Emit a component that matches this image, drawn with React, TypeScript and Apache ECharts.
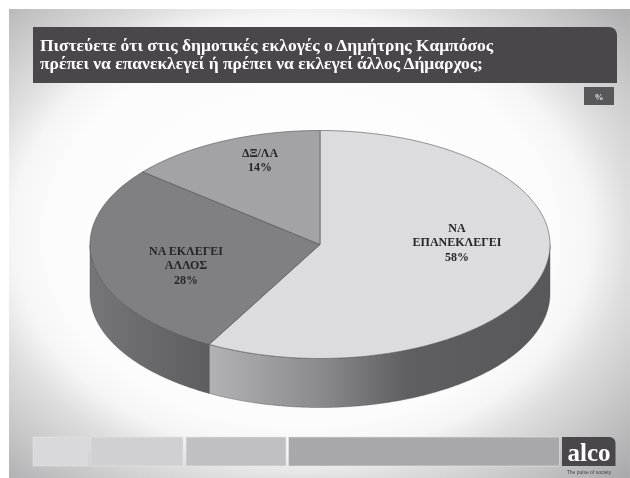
import React, { useEffect, useRef } from "react";
import * as echarts from "echarts";

const titleLines = [
  "Πιστεύετε ότι στις δημοτικές εκλογές ο Δημήτρης Καμπόσος",
  "πρέπει να επανεκλεγεί ή πρέπει να εκλεγεί άλλος Δήμαρχος;",
];
const categories = ["ΝΑ\nΕΠΑΝΕΚΛΕΓΕΙ", "ΝΑ ΕΚΛΕΓΕΙ\nΑΛΛΟΣ", "ΔΞ/ΛΑ"];
const values = [58, 28, 14];
const unitLabel = "%";
const brand = "alco";
const tagline = "The pulse of society";

const topColors = ["#dcdcde", "#807f82", "#a3a3a6"];
const labelCenters = [
  [457, 242],
  [186, 265],
  [260, 160],
];
const CX = 320;
const CY = 244.5;
const RX = 230;
const RY = 114;
const DEPTH = 49;
const SERIF = '"Liberation Serif", serif';

const pt = (deg: number, dy = 0): number[] => {
  const a = (deg * Math.PI) / 180;
  return [CX + RX * Math.sin(a), CY - RY * Math.cos(a) + dy];
};
const arc = (from: number, to: number, dy = 0): number[][] => {
  const out: number[][] = [];
  const n = Math.max(2, Math.ceil(Math.abs(to - from) * 2));
  for (let i = 0; i <= n; i++) out.push(pt(from + ((to - from) * i) / n, dy));
  return out;
};

const wallGradient = (idx: number) =>
  idx === 0
    ? new echarts.graphic.LinearGradient(210, 0, 550, 0, [
        { offset: 0, color: "#b2b2b4" },
        { offset: 0.32, color: "#8b8b8d" },
        { offset: 0.58, color: "#5f5f62" },
        { offset: 1, color: "#58585b" },
      ], true)
    : new echarts.graphic.LinearGradient(90, 0, 210, 0, [
        { offset: 0, color: "#767678" },
        { offset: 0.4, color: "#6c6c6e" },
        { offset: 1, color: "#5e5e60" },
      ], true);

export default function App() {
  const ref = useRef<HTMLDivElement>(null);
  useEffect(() => {
    const chart = echarts.init(ref.current!, undefined, { renderer: "svg" });
    const total = values.reduce((a, b) => a + b, 0);
    const bars = [
      [33, 55, "#d9d9db"],
      [90.5, 92.5, "#d0d0d2"],
      [186, 100, "#c0c0c3"],
      [288.5, 271, "#a8a8ab"],
    ] as [number, number, string][];
    chart.setOption({
      animation: false,
      graphic: [
        {
          type: "rect",
          x: 9,
          y: 9,
          scaleX: 621 / 469,
          shape: { x: 0, y: 0, width: 469, height: 469 },
          style: {
            fill: new echarts.graphic.RadialGradient(0.47, 0.48, 0.78, [
              { offset: 0, color: "#ffffff" },
              { offset: 0.52, color: "#fcfcfc" },
              { offset: 0.6, color: "#f5f5f5" },
              { offset: 0.68, color: "#dedede" },
              { offset: 0.95, color: "#a8a8aa" },
              { offset: 1, color: "#a4a4a6" },
            ]),
          },
        },
        {
          type: "rect",
          shape: { x: 33, y: 27, width: 584, height: 56, r: [0, 8, 0, 0] },
          style: { fill: "#49474a" },
        },
        {
          type: "text",
          x: 40,
          y: 44.5,
          style: { text: titleLines[0], fill: "#fff", fontFamily: SERIF, fontWeight: "bold", fontSize: 17.5, align: "left", verticalAlign: "middle" },
        },
        {
          type: "text",
          x: 40,
          y: 62.5,
          style: { text: titleLines[1], fill: "#fff", fontFamily: SERIF, fontWeight: "bold", fontSize: 17.5, align: "left", verticalAlign: "middle" },
        },
        {
          type: "rect",
          shape: { x: 584, y: 87, width: 30, height: 18 },
          style: { fill: "#58575a" },
        },
        {
          type: "text",
          x: 599,
          y: 96.5,
          style: { text: unitLabel, fill: "#e8e8e8", fontFamily: SERIF, fontWeight: "bold", fontSize: 9, align: "center", verticalAlign: "middle" },
        },
        ...bars.map(([x, w, c]) => ({
          type: "rect",
          shape: { x, y: 437, width: w, height: 29 },
          style: { fill: c, stroke: "#e6e6e7", lineWidth: 0.6 },
        })),
        {
          type: "rect",
          shape: { x: 562, y: 437, width: 53.5, height: 29, r: [0, 6, 0, 0] },
          style: { fill: "#49474a" },
        },
        {
          type: "text",
          x: 589,
          y: 452,
          style: { text: brand, fill: "#fff", fontFamily: SERIF, fontWeight: "bold", fontSize: 25, align: "center", verticalAlign: "middle" },
        },
        {
          type: "text",
          x: 589,
          y: 471.5,
          style: { text: tagline, fill: "#444", fontFamily: '"Liberation Sans", sans-serif', fontSize: 5, align: "center", verticalAlign: "middle" },
        },
      ],
      series: [
        {
          type: "custom",
          coordinateSystem: "none",
          silent: true,
          data: values.map((v) => [v]),
          renderItem: (params: any, api: any) => {
            const i = params.dataIndex;
            const before = values.slice(0, i).reduce((a, b) => a + b, 0);
            const start = (before / total) * 360;
            const end = start + (api.value(0) / total) * 360;
            const children: any[] = [];
            const ws = Math.max(start, 90);
            const we = Math.min(end, 270);
            if (we > ws) {
              children.push({
                type: "polygon",
                shape: { points: [...arc(ws, we), ...arc(we, ws, DEPTH)] },
                style: { fill: wallGradient(i), stroke: "#4c4c4e", lineWidth: 0.4 },
              });
            }
            children.push({
              type: "polygon",
              shape: { points: [[CX, CY], ...arc(start, end)] },
              style: { fill: topColors[i], stroke: "#505052", lineWidth: 0.6, lineJoin: "round" },
            });
            children.push({
              type: "text",
              x: labelCenters[i][0],
              y: labelCenters[i][1],
              style: {
                text: `${categories[i]}\n${values[i]}%`,
                fill: "#262628",
                fontFamily: SERIF,
                fontWeight: "bold",
                fontSize: 12,
                lineHeight: 14.5,
                align: "center",
                verticalAlign: "middle",
              },
            });
            return { type: "group", children };
          },
        },
      ],
    });
    return () => chart.dispose();
  }, []);
  return (
    <div
      ref={ref}
      style={{ position: "absolute", left: 0, top: 0, width: 630, height: 478, filter: "blur(0.5px)" }}
    />
  );
}
